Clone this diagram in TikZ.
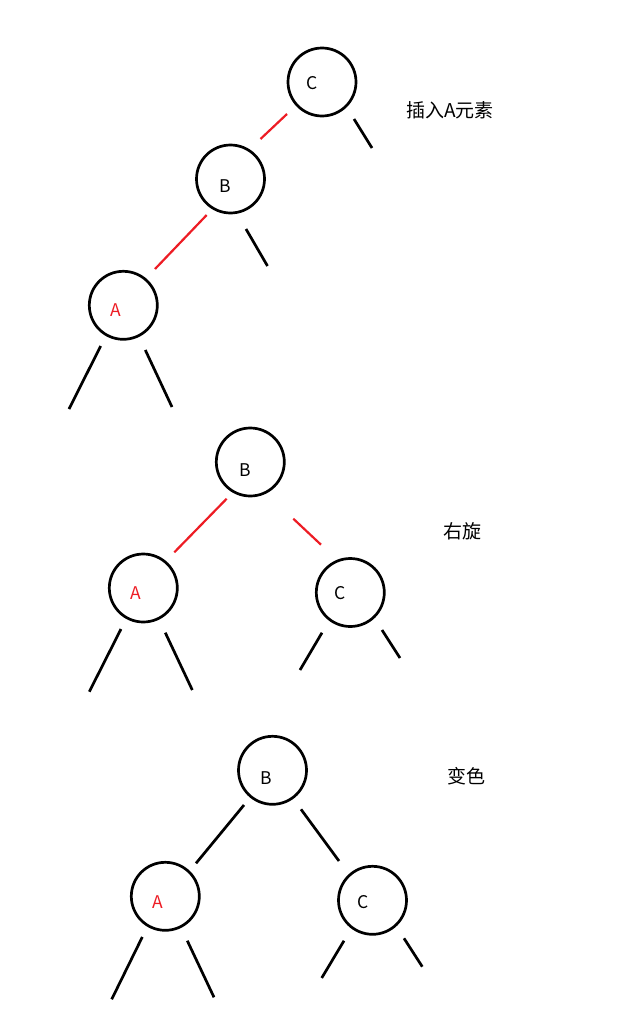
\documentclass[tikz,border=0pt]{standalone}
\usepackage{fontspec}
\setmainfont{Noto Sans CJK SC}
\definecolor{pred}{RGB}{237,28,36}
\begin{document}
\begin{tikzpicture}[x=1pt,y=-1pt,
  tn/.style={circle,draw=black,line width=2.7pt,minimum size=68pt,inner sep=0pt},
  lab/.style={inner sep=0pt,font=\fontsize{17.5}{20}\selectfont},
  redlab/.style={lab,text=pred},
  captxt/.style={inner sep=0pt,font=\fontsize{19}{22}\selectfont},
  blkline/.style={draw=black,line width=2.7pt},
  redline/.style={draw=pred,line width=2.2pt}]
\useasboundingbox (0,0) rectangle (641,1009);
% ---------- stage 1 ----------
\node[tn] (c1) at (322,82) {};
\node[lab] (c1t) at (312,83) {C};
\node[tn] (b1) at (230.5,179) {};
\node[lab] (b1t) at (225,186.5) {B};
\node[tn] (a1) at (123.3,305.3) {};
\node[redlab] (a1t) at (116,310) {A};
\node[captxt,anchor=west] (t1) at (406,110) {插入A元素};
\coordinate (c1r1) at (354,119); \coordinate (c1r2) at (372,148);
\coordinate (cb1) at (287,114); \coordinate (cb2) at (260.5,139);
\coordinate (b1r1) at (246,229); \coordinate (b1r2) at (267.5,266);
\coordinate (ba1) at (206.7,215); \coordinate (ba2) at (155,269);
\coordinate (a1l1) at (100.7,346); \coordinate (a1l2) at (69,409);
\coordinate (a1r1) at (145.3,350); \coordinate (a1r2) at (172,407);
\draw[redline] (cb1) -- (cb2);
\draw[redline] (ba1) -- (ba2);
\draw[blkline] (c1r1) -- (c1r2);
\draw[blkline] (b1r1) -- (b1r2);
\draw[blkline] (a1l1) -- (a1l2);
\draw[blkline] (a1r1) -- (a1r2);
% ---------- stage 2 ----------
\node[tn] (b2) at (250.3,462) {};
\node[lab] (b2t) at (245,470) {B};
\node[tn] (a2) at (143.3,588) {};
\node[redlab] (a2t) at (136,593) {A};
\node[tn] (c2) at (350.3,592.5) {};
\node[lab] (c2t) at (340,592.7) {C};
\node[captxt,anchor=west] (t2) at (443,531) {右旋};
\coordinate (ba21) at (226.7,498.7); \coordinate (ba22) at (174.3,552.3);
\coordinate (bc21) at (293.3,518.7); \coordinate (bc22) at (321,544.7);
\coordinate (a2l1) at (121,629); \coordinate (a2l2) at (89.3,691.7);
\coordinate (a2r1) at (165.3,632.7); \coordinate (a2r2) at (192.3,690);
\coordinate (c2l1) at (322,632.7); \coordinate (c2l2) at (300,670);
\coordinate (c2r1) at (382,630); \coordinate (c2r2) at (400,658);
\draw[redline] (ba21) -- (ba22);
\draw[redline] (bc21) -- (bc22);
\draw[blkline] (a2l1) -- (a2l2);
\draw[blkline] (a2r1) -- (a2r2);
\draw[blkline] (c2l1) -- (c2l2);
\draw[blkline] (c2r1) -- (c2r2);
% ---------- stage 3 ----------
\node[tn] (b3) at (272.5,770.3) {};
\node[lab] (b3t) at (266.7,778.3) {B};
\node[tn] (a3) at (165.3,896.3) {};
\node[redlab] (a3t) at (158.3,901.7) {A};
\node[tn] (c3) at (372.5,900.3) {};
\node[lab] (c3t) at (362.7,901.7) {C};
\node[captxt,anchor=west] (t3) at (447.5,776.7) {变色};
\coordinate (ba31) at (244,805); \coordinate (ba32) at (196,863.3);
\coordinate (bc31) at (301,809.3); \coordinate (bc32) at (339,861);
\coordinate (a3l1) at (142.3,937); \coordinate (a3l2) at (111.7,999.3);
\coordinate (a3r1) at (187.3,940.7); \coordinate (a3r2) at (214,997.3);
\coordinate (c3l1) at (344,940.7); \coordinate (c3l2) at (321.7,978);
\coordinate (c3r1) at (404,938.3); \coordinate (c3r2) at (422.3,966.7);
\draw[blkline] (ba31) -- (ba32);
\draw[blkline] (bc31) -- (bc32);
\draw[blkline] (a3l1) -- (a3l2);
\draw[blkline] (a3r1) -- (a3r2);
\draw[blkline] (c3l1) -- (c3l2);
\draw[blkline] (c3r1) -- (c3r2);
\end{tikzpicture}
\end{document}
